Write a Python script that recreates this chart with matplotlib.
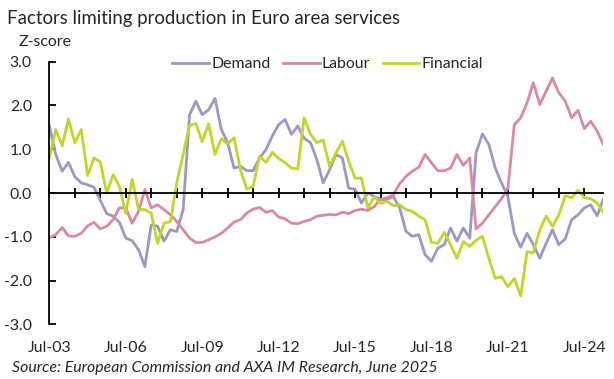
import numpy as np
import pandas as pd
import matplotlib
matplotlib.use("Agg")
import matplotlib.pyplot as plt
import matplotlib.dates as mdates

# quarterly survey readings, Jul-03 .. Apr-25 (z-scores)
quarters = pd.date_range("2003-07-01", periods=88, freq="QS-JAN")

demand = [
    1.54, 0.88, 0.50, 0.70, 0.37, 0.23, 0.19, 0.13, -0.17, -0.47,
    -0.53, -0.67, -1.03, -1.09, -1.30, -1.68, -0.73, -0.76, -1.10, -0.84,
    -0.88, -0.38, 1.79, 2.10, 1.79, 1.90, 2.16, 1.45, 1.15, 0.57,
    0.61, 0.51, 0.51, 0.80, 0.99, 1.30, 1.56, 1.68, 1.34, 1.53,
    1.25, 1.15, 0.76, 0.23, 0.53, 0.88, 0.80, 0.11, 0.09, -0.23,
    0.00, -0.08, -0.15, -0.15, -0.08, -0.34, -0.88, -0.99, -0.95, -1.41,
    -1.56, -1.26, -1.18, -0.80, -1.10, -0.80, -1.03, 0.92, 1.35, 1.11,
    0.57, 0.23, -0.08, -0.92, -1.24, -0.92, -1.18, -1.49, -1.15, -0.84,
    -1.18, -1.05, -0.61, -0.50, -0.34, -0.27, -0.52, -0.14,
]
labour = [
    -1.03, -0.95, -0.79, -0.98, -0.99, -0.92, -0.75, -0.67, -0.82, -0.76,
    -0.61, -0.34, -0.34, -0.69, -0.42, 0.08, -0.34, -0.27, -0.38, -0.50,
    -0.65, -0.84, -1.03, -1.13, -1.13, -1.07, -1.00, -0.92, -0.80, -0.66,
    -0.61, -0.46, -0.37, -0.33, -0.44, -0.40, -0.55, -0.59, -0.69, -0.70,
    -0.65, -0.61, -0.53, -0.51, -0.49, -0.50, -0.44, -0.47, -0.40, -0.37,
    -0.40, -0.31, -0.14, -0.11, -0.04, 0.21, 0.38, 0.50, 0.59, 0.88,
    0.69, 0.51, 0.51, 0.57, 0.88, 0.63, 0.80, -0.82, -0.69, -0.50,
    -0.31, -0.13, 0.11, 1.56, 1.72, 2.06, 2.52, 2.02, 2.33, 2.63,
    2.29, 2.10, 1.72, 1.89, 1.47, 1.64, 1.41, 1.11,
]
financial = [
    0.80, 1.45, 1.08, 1.69, 1.15, 1.45, 0.40, 0.80, 0.71, 0.00,
    0.42, 0.15, -0.46, 0.31, -0.38, -0.38, -0.46, -1.15, -0.69, -0.65,
    0.23, 0.88, 1.54, 1.59, 1.17, 1.58, 0.88, 1.24, 1.12, 1.26,
    0.53, 0.09, 0.15, 0.84, 0.70, 0.93, 0.79, 0.69, 0.57, 0.55,
    1.72, 1.34, 1.15, 1.21, 0.61, 0.92, 1.18, 0.73, 0.34, 0.34,
    -0.34, -0.09, -0.24, -0.19, -0.29, -0.27, -0.38, -0.42, -0.53, -0.61,
    -1.13, -1.15, -0.90, -1.18, -1.49, -1.11, -1.22, -1.08, -0.99, -1.49,
    -1.95, -1.91, -2.14, -1.95, -2.35, -1.34, -1.37, -0.84, -0.53, -0.76,
    -0.50, -0.06, -0.11, 0.06, -0.11, -0.13, -0.23, -0.44,
]

yticks = [3.0, 2.0, 1.0, 0.0, -1.0, -2.0, -3.0]

plt.rcParams["font.family"] = ["Lato", "DejaVu Sans"]
text_col = "#262626"
fs = 11.4

x = mdates.date2num(quarters)

fig = plt.figure(figsize=(6.14, 3.79), dpi=100)
ax = fig.add_axes([0.0803, 0.1443, 0.9025, 0.6929])

ax.plot(x, demand, color="#9a99c3", lw=2.0, label="Demand")
ax.plot(x, labour, color="#da88a7", lw=2.0, label="Labour")
ax.plot(x, financial, color="#c3d42a", lw=2.0, label="Financial")

ax.set_xlim(x[0], x[-1])
ax.set_ylim(-3, 3)
ax.set_yticks(yticks)
ax.set_yticklabels([f"{v:.1f}" for v in yticks])

for side in ["top", "right"]:
    ax.spines[side].set_visible(False)
ax.spines["left"].set_linewidth(1.3)
ax.spines["bottom"].set_position(("data", 0))
ax.spines["bottom"].set_linewidth(1.3)

# yearly ticks on the zero line, labels every third year below the plot
years = mdates.date2num(pd.date_range("2003-07-01", "2024-07-01", freq="12MS"))
ax.set_xticks(years)
ax.tick_params(axis="x", direction="inout", length=7, width=1.3,
               labelbottom=False)
ax.tick_params(axis="y", direction="in", length=5, width=1.3,
               pad=12.5, labelsize=fs, labelcolor=text_col)

sec = ax.secondary_xaxis("bottom")
sec.spines["bottom"].set_visible(False)
lab_dates = pd.date_range("2003-07-01", "2024-07-01", freq="36MS")
sec.set_xticks(mdates.date2num(lab_dates))
sec.set_xticklabels([d.strftime("%b-%y") for d in lab_dates])
sec.tick_params(length=0, pad=12, labelsize=fs, labelcolor=text_col)

ax.legend(loc="center", bbox_to_anchor=(0.534, 0.831),
          bbox_transform=fig.transFigure, ncol=3, frameon=False,
          fontsize=fs, handlelength=2.3, handletextpad=0.15,
          columnspacing=0.8, labelcolor=text_col)

fig.text(0.011, 0.952, "Factors limiting production in Euro area services",
         fontsize=13.4, color=text_col, va="center", ha="left")
fig.text(0.031, 0.89, "Z-score", fontsize=fs, color=text_col,
         va="center", ha="left")
fig.text(0.019, 0.029, "Source: European Commission and AXA IM Research, June 2025",
         fontsize=fs, style="italic", color=text_col, va="center", ha="left")

fig.savefig("out.png", dpi=100)
